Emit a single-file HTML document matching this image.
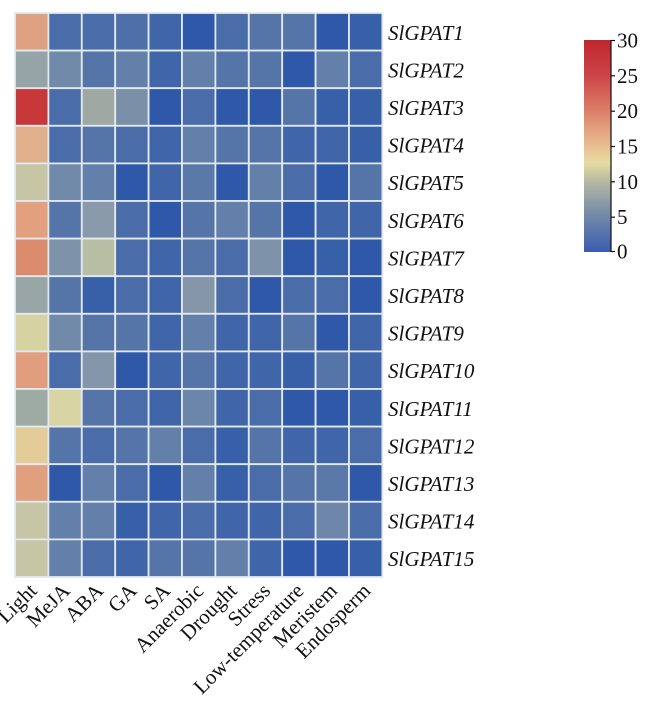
<!DOCTYPE html>
<html><head><meta charset="utf-8"><style>
html,body{margin:0;padding:0;background:#fff;}
svg{display:block;}
text{font-family:"Liberation Serif",serif;fill:#111;}
</style></head><body>
<svg width="645" height="705" viewBox="0 0 645 705" xmlns="http://www.w3.org/2000/svg">
<defs>
<linearGradient id="cb" x1="0" y1="0" x2="0" y2="1">
<stop offset="0" stop-color="#c0262e"/>
<stop offset="0.167" stop-color="#cc4448"/>
<stop offset="0.333" stop-color="#dc7e68"/>
<stop offset="0.5" stop-color="#e8bf90"/>
<stop offset="0.58" stop-color="#e6dca2"/>
<stop offset="0.667" stop-color="#b6b8a2"/>
<stop offset="0.833" stop-color="#7088a8"/>
<stop offset="1" stop-color="#3a5cb0"/>
</linearGradient>
</defs>
<g stroke="#e2e9ef" stroke-width="1.8">
<!-- Row 1 -->
<g transform="translate(0,13)">
<rect x="15" y="0" width="33.4" height="37.6" fill="#dea283"/>
<rect x="48.4" y="0" width="33.4" height="37.6" fill="#4a6ca8"/>
<rect x="81.8" y="0" width="33.4" height="37.6" fill="#4a6ca8"/>
<rect x="115.2" y="0" width="33.4" height="37.6" fill="#4e6fa8"/>
<rect x="148.6" y="0" width="33.4" height="37.6" fill="#4066a9"/>
<rect x="182" y="0" width="33.4" height="37.6" fill="#2f58a8"/>
<rect x="215.4" y="0" width="33.4" height="37.6" fill="#4a6ca8"/>
<rect x="248.8" y="0" width="33.4" height="37.6" fill="#5574a8"/>
<rect x="282.2" y="0" width="33.4" height="37.6" fill="#5574a8"/>
<rect x="315.6" y="0" width="33.4" height="37.6" fill="#2f58a8"/>
<rect x="349" y="0" width="33.4" height="37.6" fill="#3860a9"/>
</g>
<!-- Row 2 -->
<g transform="translate(0,50.6)">
<rect x="15" y="0" width="33.4" height="37.6" fill="#95a4a6"/>
<rect x="48.4" y="0" width="33.4" height="37.6" fill="#728aa9"/>
<rect x="81.8" y="0" width="33.4" height="37.6" fill="#5574a8"/>
<rect x="115.2" y="0" width="33.4" height="37.6" fill="#6280a9"/>
<rect x="148.6" y="0" width="33.4" height="37.6" fill="#4066a9"/>
<rect x="182" y="0" width="33.4" height="37.6" fill="#6280a9"/>
<rect x="215.4" y="0" width="33.4" height="37.6" fill="#5574a8"/>
<rect x="248.8" y="0" width="33.4" height="37.6" fill="#5574a8"/>
<rect x="282.2" y="0" width="33.4" height="37.6" fill="#2f58a8"/>
<rect x="315.6" y="0" width="33.4" height="37.6" fill="#6280a9"/>
<rect x="349" y="0" width="33.4" height="37.6" fill="#4a6ca8"/>
</g>
<!-- Row 3 -->
<g transform="translate(0,88.2)">
<rect x="15" y="0" width="33.4" height="37.6" fill="#c8383a"/>
<rect x="48.4" y="0" width="33.4" height="37.6" fill="#4a6ca8"/>
<rect x="81.8" y="0" width="33.4" height="37.6" fill="#a0a8a4"/>
<rect x="115.2" y="0" width="33.4" height="37.6" fill="#7a8fa8"/>
<rect x="148.6" y="0" width="33.4" height="37.6" fill="#2f58a8"/>
<rect x="182" y="0" width="33.4" height="37.6" fill="#4a6ca8"/>
<rect x="215.4" y="0" width="33.4" height="37.6" fill="#2f58a8"/>
<rect x="248.8" y="0" width="33.4" height="37.6" fill="#2f58a8"/>
<rect x="282.2" y="0" width="33.4" height="37.6" fill="#5574a8"/>
<rect x="315.6" y="0" width="33.4" height="37.6" fill="#3860a9"/>
<rect x="349" y="0" width="33.4" height="37.6" fill="#3860a9"/>
</g>
<!-- Row 4 -->
<g transform="translate(0,125.8)">
<rect x="15" y="0" width="33.4" height="37.6" fill="#e0b08c"/>
<rect x="48.4" y="0" width="33.4" height="37.6" fill="#4a6ca8"/>
<rect x="81.8" y="0" width="33.4" height="37.6" fill="#5574a8"/>
<rect x="115.2" y="0" width="33.4" height="37.6" fill="#4a6ca8"/>
<rect x="148.6" y="0" width="33.4" height="37.6" fill="#4066a9"/>
<rect x="182" y="0" width="33.4" height="37.6" fill="#6280a9"/>
<rect x="215.4" y="0" width="33.4" height="37.6" fill="#5574a8"/>
<rect x="248.8" y="0" width="33.4" height="37.6" fill="#5574a8"/>
<rect x="282.2" y="0" width="33.4" height="37.6" fill="#4066a9"/>
<rect x="315.6" y="0" width="33.4" height="37.6" fill="#4066a9"/>
<rect x="349" y="0" width="33.4" height="37.6" fill="#3860a9"/>
</g>
<!-- Row 5 -->
<g transform="translate(0,163.4)">
<rect x="15" y="0" width="33.4" height="37.6" fill="#c6c6a6"/>
<rect x="48.4" y="0" width="33.4" height="37.6" fill="#728aa9"/>
<rect x="81.8" y="0" width="33.4" height="37.6" fill="#6280a9"/>
<rect x="115.2" y="0" width="33.4" height="37.6" fill="#2f58a8"/>
<rect x="148.6" y="0" width="33.4" height="37.6" fill="#4066a9"/>
<rect x="182" y="0" width="33.4" height="37.6" fill="#5a78a8"/>
<rect x="215.4" y="0" width="33.4" height="37.6" fill="#2f58a8"/>
<rect x="248.8" y="0" width="33.4" height="37.6" fill="#6280a9"/>
<rect x="282.2" y="0" width="33.4" height="37.6" fill="#4a6ca8"/>
<rect x="315.6" y="0" width="33.4" height="37.6" fill="#2f58a8"/>
<rect x="349" y="0" width="33.4" height="37.6" fill="#5574a8"/>
</g>
<!-- Row 6 -->
<g transform="translate(0,201)">
<rect x="15" y="0" width="33.4" height="37.6" fill="#e2a07e"/>
<rect x="48.4" y="0" width="33.4" height="37.6" fill="#5574a8"/>
<rect x="81.8" y="0" width="33.4" height="37.6" fill="#8a9aab"/>
<rect x="115.2" y="0" width="33.4" height="37.6" fill="#4a6ca8"/>
<rect x="148.6" y="0" width="33.4" height="37.6" fill="#2f58a8"/>
<rect x="182" y="0" width="33.4" height="37.6" fill="#5574a8"/>
<rect x="215.4" y="0" width="33.4" height="37.6" fill="#6280a9"/>
<rect x="248.8" y="0" width="33.4" height="37.6" fill="#5574a8"/>
<rect x="282.2" y="0" width="33.4" height="37.6" fill="#2f58a8"/>
<rect x="315.6" y="0" width="33.4" height="37.6" fill="#4066a9"/>
<rect x="349" y="0" width="33.4" height="37.6" fill="#4066a9"/>
</g>
<!-- Row 7 -->
<g transform="translate(0,238.6)">
<rect x="15" y="0" width="33.4" height="37.6" fill="#dc8a6c"/>
<rect x="48.4" y="0" width="33.4" height="37.6" fill="#7e92aa"/>
<rect x="81.8" y="0" width="33.4" height="37.6" fill="#b8bea4"/>
<rect x="115.2" y="0" width="33.4" height="37.6" fill="#4a6ca8"/>
<rect x="148.6" y="0" width="33.4" height="37.6" fill="#4066a9"/>
<rect x="182" y="0" width="33.4" height="37.6" fill="#5574a8"/>
<rect x="215.4" y="0" width="33.4" height="37.6" fill="#4a6ca8"/>
<rect x="248.8" y="0" width="33.4" height="37.6" fill="#7e92aa"/>
<rect x="282.2" y="0" width="33.4" height="37.6" fill="#2f58a8"/>
<rect x="315.6" y="0" width="33.4" height="37.6" fill="#3860a9"/>
<rect x="349" y="0" width="33.4" height="37.6" fill="#2f58a8"/>
</g>
<!-- Row 8 -->
<g transform="translate(0,276.2)">
<rect x="15" y="0" width="33.4" height="37.6" fill="#98a6a6"/>
<rect x="48.4" y="0" width="33.4" height="37.6" fill="#5574a8"/>
<rect x="81.8" y="0" width="33.4" height="37.6" fill="#3860a9"/>
<rect x="115.2" y="0" width="33.4" height="37.6" fill="#4a6ca8"/>
<rect x="148.6" y="0" width="33.4" height="37.6" fill="#4066a9"/>
<rect x="182" y="0" width="33.4" height="37.6" fill="#8596a8"/>
<rect x="215.4" y="0" width="33.4" height="37.6" fill="#4a6ca8"/>
<rect x="248.8" y="0" width="33.4" height="37.6" fill="#2f58a8"/>
<rect x="282.2" y="0" width="33.4" height="37.6" fill="#4a6ca8"/>
<rect x="315.6" y="0" width="33.4" height="37.6" fill="#4a6ca8"/>
<rect x="349" y="0" width="33.4" height="37.6" fill="#2f58a8"/>
</g>
<!-- Row 9 -->
<g transform="translate(0,313.8)">
<rect x="15" y="0" width="33.4" height="37.6" fill="#d6d2a2"/>
<rect x="48.4" y="0" width="33.4" height="37.6" fill="#728aa9"/>
<rect x="81.8" y="0" width="33.4" height="37.6" fill="#5574a8"/>
<rect x="115.2" y="0" width="33.4" height="37.6" fill="#5574a8"/>
<rect x="148.6" y="0" width="33.4" height="37.6" fill="#4066a9"/>
<rect x="182" y="0" width="33.4" height="37.6" fill="#6280a9"/>
<rect x="215.4" y="0" width="33.4" height="37.6" fill="#4066a9"/>
<rect x="248.8" y="0" width="33.4" height="37.6" fill="#4066a9"/>
<rect x="282.2" y="0" width="33.4" height="37.6" fill="#5574a8"/>
<rect x="315.6" y="0" width="33.4" height="37.6" fill="#2f58a8"/>
<rect x="349" y="0" width="33.4" height="37.6" fill="#4066a9"/>
</g>
<!-- Row 10 -->
<g transform="translate(0,351.4)">
<rect x="15" y="0" width="33.4" height="37.6" fill="#e09e7e"/>
<rect x="48.4" y="0" width="33.4" height="37.6" fill="#4a6ca8"/>
<rect x="81.8" y="0" width="33.4" height="37.6" fill="#8496aa"/>
<rect x="115.2" y="0" width="33.4" height="37.6" fill="#2f58a8"/>
<rect x="148.6" y="0" width="33.4" height="37.6" fill="#4066a9"/>
<rect x="182" y="0" width="33.4" height="37.6" fill="#5574a8"/>
<rect x="215.4" y="0" width="33.4" height="37.6" fill="#4066a9"/>
<rect x="248.8" y="0" width="33.4" height="37.6" fill="#4066a9"/>
<rect x="282.2" y="0" width="33.4" height="37.6" fill="#3860a9"/>
<rect x="315.6" y="0" width="33.4" height="37.6" fill="#5574a8"/>
<rect x="349" y="0" width="33.4" height="37.6" fill="#4066a9"/>
</g>
<!-- Row 11 -->
<g transform="translate(0,389)">
<rect x="15" y="0" width="33.4" height="37.6" fill="#9eaaa4"/>
<rect x="48.4" y="0" width="33.4" height="37.6" fill="#d8d4a4"/>
<rect x="81.8" y="0" width="33.4" height="37.6" fill="#5574a8"/>
<rect x="115.2" y="0" width="33.4" height="37.6" fill="#4a6ca8"/>
<rect x="148.6" y="0" width="33.4" height="37.6" fill="#4066a9"/>
<rect x="182" y="0" width="33.4" height="37.6" fill="#6c86aa"/>
<rect x="215.4" y="0" width="33.4" height="37.6" fill="#4066a9"/>
<rect x="248.8" y="0" width="33.4" height="37.6" fill="#4a6ca8"/>
<rect x="282.2" y="0" width="33.4" height="37.6" fill="#2f58a8"/>
<rect x="315.6" y="0" width="33.4" height="37.6" fill="#2f58a8"/>
<rect x="349" y="0" width="33.4" height="37.6" fill="#3860a9"/>
</g>
<!-- Row 12 -->
<g transform="translate(0,426.6)">
<rect x="15" y="0" width="33.4" height="37.6" fill="#e4cc98"/>
<rect x="48.4" y="0" width="33.4" height="37.6" fill="#5574a8"/>
<rect x="81.8" y="0" width="33.4" height="37.6" fill="#4a6ca8"/>
<rect x="115.2" y="0" width="33.4" height="37.6" fill="#5574a8"/>
<rect x="148.6" y="0" width="33.4" height="37.6" fill="#6280a9"/>
<rect x="182" y="0" width="33.4" height="37.6" fill="#4a6ca8"/>
<rect x="215.4" y="0" width="33.4" height="37.6" fill="#3860a9"/>
<rect x="248.8" y="0" width="33.4" height="37.6" fill="#5574a8"/>
<rect x="282.2" y="0" width="33.4" height="37.6" fill="#4066a9"/>
<rect x="315.6" y="0" width="33.4" height="37.6" fill="#4066a9"/>
<rect x="349" y="0" width="33.4" height="37.6" fill="#4a6ca8"/>
</g>
<!-- Row 13 -->
<g transform="translate(0,464.2)">
<rect x="15" y="0" width="33.4" height="37.6" fill="#e0a07e"/>
<rect x="48.4" y="0" width="33.4" height="37.6" fill="#2f58a8"/>
<rect x="81.8" y="0" width="33.4" height="37.6" fill="#6280a9"/>
<rect x="115.2" y="0" width="33.4" height="37.6" fill="#4a6ca8"/>
<rect x="148.6" y="0" width="33.4" height="37.6" fill="#2f58a8"/>
<rect x="182" y="0" width="33.4" height="37.6" fill="#6280a9"/>
<rect x="215.4" y="0" width="33.4" height="37.6" fill="#3860a9"/>
<rect x="248.8" y="0" width="33.4" height="37.6" fill="#4a6ca8"/>
<rect x="282.2" y="0" width="33.4" height="37.6" fill="#5574a8"/>
<rect x="315.6" y="0" width="33.4" height="37.6" fill="#5a78a8"/>
<rect x="349" y="0" width="33.4" height="37.6" fill="#2f58a8"/>
</g>
<!-- Row 14 -->
<g transform="translate(0,501.8)">
<rect x="15" y="0" width="33.4" height="37.6" fill="#c6c6a6"/>
<rect x="48.4" y="0" width="33.4" height="37.6" fill="#6280a9"/>
<rect x="81.8" y="0" width="33.4" height="37.6" fill="#6280a9"/>
<rect x="115.2" y="0" width="33.4" height="37.6" fill="#3860a9"/>
<rect x="148.6" y="0" width="33.4" height="37.6" fill="#4066a9"/>
<rect x="182" y="0" width="33.4" height="37.6" fill="#4a6ca8"/>
<rect x="215.4" y="0" width="33.4" height="37.6" fill="#4066a9"/>
<rect x="248.8" y="0" width="33.4" height="37.6" fill="#4066a9"/>
<rect x="282.2" y="0" width="33.4" height="37.6" fill="#4a6ca8"/>
<rect x="315.6" y="0" width="33.4" height="37.6" fill="#6e86a9"/>
<rect x="349" y="0" width="33.4" height="37.6" fill="#4a6ca8"/>
</g>
<!-- Row 15 -->
<g transform="translate(0,539.4)">
<rect x="15" y="0" width="33.4" height="37.6" fill="#c6c6a6"/>
<rect x="48.4" y="0" width="33.4" height="37.6" fill="#6280a9"/>
<rect x="81.8" y="0" width="33.4" height="37.6" fill="#4a6ca8"/>
<rect x="115.2" y="0" width="33.4" height="37.6" fill="#4066a9"/>
<rect x="148.6" y="0" width="33.4" height="37.6" fill="#5574a8"/>
<rect x="182" y="0" width="33.4" height="37.6" fill="#5574a8"/>
<rect x="215.4" y="0" width="33.4" height="37.6" fill="#6280a9"/>
<rect x="248.8" y="0" width="33.4" height="37.6" fill="#4066a9"/>
<rect x="282.2" y="0" width="33.4" height="37.6" fill="#2f58a8"/>
<rect x="315.6" y="0" width="33.4" height="37.6" fill="#2f58a8"/>
<rect x="349" y="0" width="33.4" height="37.6" fill="#3860a9"/>
</g>
</g>

<!-- Row labels -->
<g font-size="21" font-style="italic">
<text x="388" y="39.8">SlGPAT1</text>
<text x="388" y="77.4">SlGPAT2</text>
<text x="388" y="115">SlGPAT3</text>
<text x="388" y="152.6">SlGPAT4</text>
<text x="388" y="190.2">SlGPAT5</text>
<text x="388" y="227.8">SlGPAT6</text>
<text x="388" y="265.4">SlGPAT7</text>
<text x="388" y="303">SlGPAT8</text>
<text x="388" y="340.6">SlGPAT9</text>
<text x="388" y="378.2">SlGPAT10</text>
<text x="388" y="415.8">SlGPAT11</text>
<text x="388" y="453.4">SlGPAT12</text>
<text x="388" y="491">SlGPAT13</text>
<text x="388" y="528.6">SlGPAT14</text>
<text x="388" y="566.2">SlGPAT15</text>
</g>

<!-- Column labels -->
<g font-size="21" text-anchor="end">
<text transform="translate(38,592) rotate(-45)">Light</text>
<text transform="translate(71.1,592) rotate(-45)">MeJA</text>
<text transform="translate(104.5,592) rotate(-45)">ABA</text>
<text transform="translate(137.9,592) rotate(-45)">GA</text>
<text transform="translate(171.3,592) rotate(-45)">SA</text>
<text transform="translate(204.7,592) rotate(-45)">Anaerobic</text>
<text transform="translate(238.1,592) rotate(-45)">Drought</text>
<text transform="translate(271.5,592) rotate(-45)">Stress</text>
<text transform="translate(304.9,592) rotate(-45)">Low-temperature</text>
<text transform="translate(338.3,592) rotate(-45)">Meristem</text>
<text transform="translate(371.7,592) rotate(-45)">Endosperm</text>
</g>

<!-- Colorbar -->
<rect x="584" y="40" width="27" height="212" fill="url(#cb)"/>
<line x1="611" y1="40" x2="611" y2="252" stroke="#111" stroke-width="1.2"/>
<g stroke="#111" stroke-width="1.2">
<line x1="611" y1="40.5" x2="615" y2="40.5"/>
<line x1="611" y1="75.8" x2="615" y2="75.8"/>
<line x1="611" y1="111.2" x2="615" y2="111.2"/>
<line x1="611" y1="146.5" x2="615" y2="146.5"/>
<line x1="611" y1="181.8" x2="615" y2="181.8"/>
<line x1="611" y1="217.2" x2="615" y2="217.2"/>
<line x1="611" y1="251.5" x2="615" y2="251.5"/>
</g>
<g font-size="21">
<text x="617" y="47.5">30</text>
<text x="617" y="82.8">25</text>
<text x="617" y="118.2">20</text>
<text x="617" y="153.5">15</text>
<text x="617" y="188.8">10</text>
<text x="617" y="224.2">5</text>
<text x="617" y="258.5">0</text>
</g>
</svg>
</body></html>
